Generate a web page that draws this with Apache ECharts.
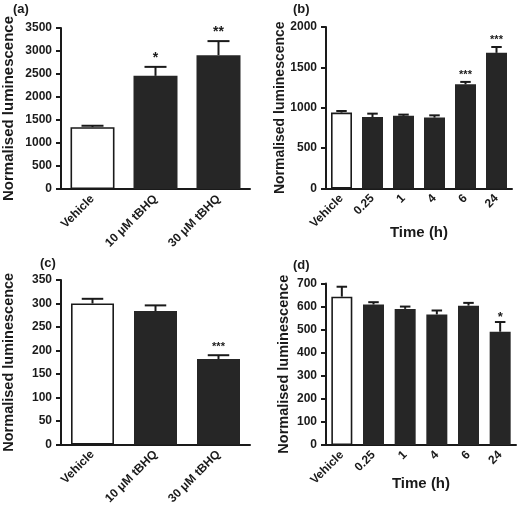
<!DOCTYPE html>
<html><head><meta charset="utf-8">
<script src="https://cdn.jsdelivr.net/npm/echarts@6/dist/echarts.min.js"></script>
<style>html,body{margin:0;padding:0;background:#fff}#c{width:518px;height:507px}</style>
</head><body><div id="c"></div>
<script>
// Panel (a)
const catsA = ['Vehicle', '10 μM tBHQ', '30 μM tBHQ'];
const valsA = [1345, 2460, 2910];
const errA = [30, 195, 305];
const sigA = ['', '*', '**'];
const yTicksA = [0, 3500, 500];
// Panel (b)
const catsB = ['Vehicle', '0.25', '1', '4', '6', '24'];
const valsB = [940, 885, 900, 878, 1290, 1680];
const errB = [20, 42, 15, 28, 30, 72];
const sigB = ['', '', '', '', '***', '***'];
const yTicksB = [0, 2000, 500];
// Panel (c)
const catsC = ['Vehicle', '10 μM tBHQ', '30 μM tBHQ'];
const valsC = [300, 284, 182];
const errC = [10, 12, 8];
const sigC = ['', '', '***'];
const yTicksC = [0, 350, 50];
// Panel (d)
const catsD = ['Vehicle', '0.25', '1', '4', '6', '24'];
const valsD = [643, 609, 590, 566, 604, 491];
const errD = [43, 10, 10, 17, 12, 42];
const sigD = ['', '', '', '', '', '*'];
const yTicksD = [0, 700, 100];

const FONT = "'Liberation Sans', Arial, sans-serif";
const INK = '#1a1a1a';
const DARK = '#262626';

const panels = [
  {cats: catsA, vals: valsA, errs: errA, sigs: sigA, ticks: yTicksA, grid: {left: 58, top: 28, width: 192, height: 161}, barW: 44, nameSize: 15, nameGap: 45, xName: '', xGap: 30, starSize: 14, starGap: 11.5, title: '(a)', tpos: [13, 3]},
  {cats: catsB, vals: valsB, errs: errB, sigs: sigB, ticks: yTicksB, grid: {left: 326, top: 27, width: 186, height: 161.5}, barW: 21, nameSize: 14, nameGap: 39, xName: 'Time (h)', xGap: 37, starSize: 11, starGap: 9.5, title: '(b)', tpos: [293, 3]},
  {cats: catsC, vals: valsC, errs: errC, sigs: sigC, ticks: yTicksC, grid: {left: 58, top: 280, width: 192, height: 165}, barW: 43, nameSize: 14.5, nameGap: 45, xName: '', xGap: 30, starSize: 11, starGap: 10.5, title: '(c)', tpos: [40, 257]},
  {cats: catsD, vals: valsD, errs: errD, sigs: sigD, ticks: yTicksD, grid: {left: 326, top: 283.5, width: 190, height: 161.5}, barW: 21, nameSize: 14.5, nameGap: 35, xName: 'Time (h)', xGap: 31, starSize: 13, starGap: 7, title: '(d)', tpos: [293, 259]}
];

function errRender(p) {
  return function (params, api) {
    const i = params.dataIndex;
    const top = api.coord([i, p.vals[i] + p.errs[i]]);
    const base = api.coord([i, p.vals[i]]);
    const half = p.barW * 0.25;
    const st = {stroke: INK, lineWidth: 2};
    const children = [
      {type: 'line', shape: {x1: top[0], y1: top[1], x2: base[0], y2: base[1]}, style: st},
      {type: 'line', shape: {x1: top[0] - half, y1: top[1], x2: top[0] + half, y2: top[1]}, style: st}
    ];
    if (p.sigs[i]) {
      children.push({type: 'text', style: {text: p.sigs[i], x: top[0], y: top[1] - p.starGap + 0.2 * p.starSize, align: 'center', verticalAlign: 'middle', fontSize: p.starSize, fontWeight: 'bold', fontFamily: FONT, fill: INK}});
    }
    return {type: 'group', children: children};
  };
}

const option = {
  animation: false,
  backgroundColor: '#fff',
  title: [], grid: [], xAxis: [], yAxis: [], series: []
};

panels.forEach(function (p, k) {
  option.title.push({text: p.title, left: p.tpos[0], top: p.tpos[1], padding: 0, textStyle: {fontSize: 13, fontWeight: 'bold', fontFamily: FONT, color: INK}});
  option.grid.push(Object.assign({containLabel: false}, p.grid));
  option.xAxis.push({
    type: 'category', gridIndex: k, data: p.cats,
    name: p.xName, nameLocation: 'middle', nameGap: p.xGap, nameMoveOverlap: false,
    nameTextStyle: {fontSize: 15, fontWeight: 'bold', fontFamily: FONT, color: INK},
    axisLine: {lineStyle: {color: INK, width: 2}},
    axisTick: {alignWithLabel: true, length: 5, lineStyle: {color: INK, width: 2}},
    axisLabel: {rotate: 45, margin: 8, interval: 0, fontSize: 12, fontWeight: 'bold', fontFamily: FONT, color: INK},
    splitLine: {show: false}
  });
  option.yAxis.push({
    type: 'value', gridIndex: k, min: p.ticks[0], max: p.ticks[1], interval: p.ticks[2],
    name: 'Normalised luminescence', nameLocation: 'middle', nameGap: p.nameGap, nameMoveOverlap: false,
    nameTextStyle: {fontSize: p.nameSize, fontWeight: 'bold', fontFamily: FONT, color: INK},
    axisLine: {show: true, lineStyle: {color: INK, width: 2}},
    axisTick: {show: true, length: 5, lineStyle: {color: INK, width: 2}},
    axisLabel: {margin: 9, fontSize: 12, fontWeight: 'bold', fontFamily: FONT, color: INK, formatter: function (v) { return String(v); }},
    splitLine: {show: false}
  });
  option.series.push({
    type: 'bar', xAxisIndex: k, yAxisIndex: k, barWidth: p.barW,
    data: p.vals.map(function (v, i) {
      return i === 0
        ? {value: v, itemStyle: {color: '#fff', borderColor: INK, borderWidth: 1.6}}
        : {value: v, itemStyle: {color: DARK}};
    }),
    z: 2
  });
  option.series.push({
    type: 'custom', xAxisIndex: k, yAxisIndex: k,
    renderItem: errRender(p),
    data: p.vals.map(function (v, i) { return [i, v + p.errs[i]]; }),
    encode: {x: 0, y: 1},
    z: 3
  });
});

const chart = echarts.init(document.getElementById('c'), null, {renderer: 'canvas'});
chart.setOption(option);
</script>
</body></html>
